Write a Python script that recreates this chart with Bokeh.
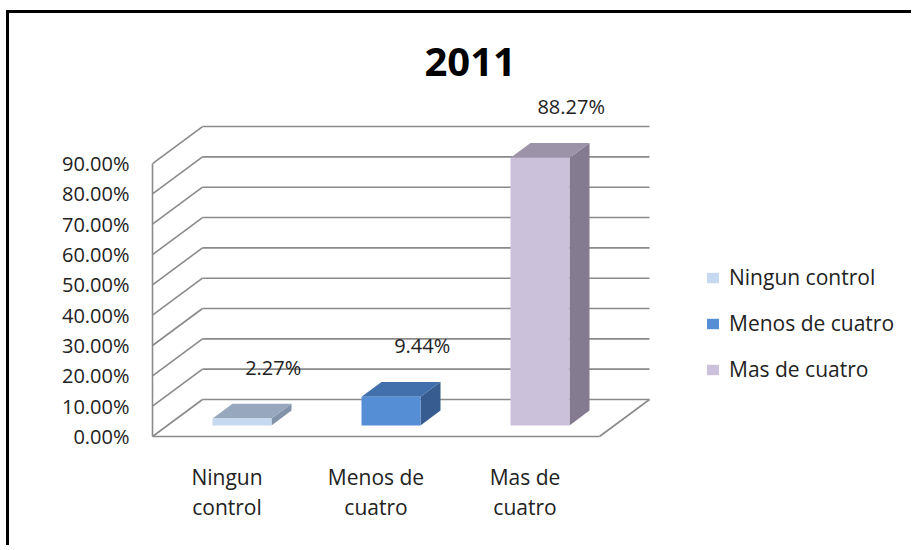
import numpy as np
from bokeh.plotting import figure
from bokeh.models import (FixedTicker, PrintfTickFormatter, Legend, LegendItem,
                          ColumnDataSource, Range1d)
from bokeh.embed import file_html
from bokeh.resources import INLINE
from bokeh.core.properties import value

# ---------------- data ----------------
title_text = "2011"
categories = ["Ningun control", "Menos de cuatro", "Mas de cuatro"]
tick_labels = ["Ningun\ncontrol", "Menos de\ncuatro", "Mas de\ncuatro"]
values = [2.27, 9.44, 88.27]
value_labels = ["2.27%", "9.44%", "88.27%"]
axis_ticks = [0, 10, 20, 30, 40, 50, 60, 70, 80, 90]
front_colors = ["#c6d9f1", "#558ed5", "#ccc1da"]
top_colors = ["#97a8be", "#4170ac", "#9d93a9"]
side_colors = ["#8192a9", "#375d90", "#847b90"]

# ---------------- layout ----------------
FONT = "Open Sans"
TXT = "#222222"
GRID = "#8a8a8a"
OX, OY = 9, 13              # canvas origin on the page (margin + border)
W, H = 914 - OX, 548 - OY
PAD = 4                     # px below the floor's front edge
LEFT = 152 - OX
TOP = 82 - OY
BOTTOM = (OY + H) - (436 + PAD)
RIGHT = 0
PX_X = 149.0                # px per category
PX_Y = 3.033                # px per percent point
frame_w = W - LEFT - RIGHT
frame_h = H - TOP - BOTTOM
x_start = -0.5
y_start = -PAD / PX_Y

DX = 50 / PX_X              # depth of the chart box
DY = 37 / PX_Y
F0, F1 = 0.3, 0.7           # bar depth (fraction of box depth)
BAR_W = 59 / PX_X
LABEL_DX, LABEL_DY = 0.31, 20.5

n = len(categories)
xs = np.arange(n, dtype=float)

p = figure(width=W, height=H, output_backend="svg", toolbar_location=None,
           x_range=Range1d(x_start, x_start + frame_w / PX_X),
           y_range=Range1d(y_start, y_start + frame_h / PX_Y),
           min_border_left=LEFT, min_border_right=RIGHT,
           min_border_top=TOP, min_border_bottom=BOTTOM)
p.outline_line_color = None
p.background_fill_color = "white"
p.border_fill_color = "white"
p.grid.visible = False
p.styles = {"margin-left": "6px", "margin-top": "10px",
            "border-left": "3px solid #000", "border-top": "3px solid #000"}

# title
p.title.text = title_text
p.title.align = "left"
p.title.offset = 272
p.title.standoff = 14
p.title.text_font = FONT
p.title.text_font_size = "40px"
p.title.text_font_style = "bold"
p.title.text_color = "black"

# ---------------- walls & floor ----------------
ticks = np.array(axis_ticks, dtype=float)
left_edge = x_start
right_edge = x_start + n
p.segment(x0=left_edge + DX, y0=ticks + DY, x1=right_edge + DX, y1=ticks + DY,
          line_color=GRID, line_width=1.6)
p.segment(x0=np.full(len(ticks), left_edge), y0=ticks,
          x1=np.full(len(ticks), left_edge + DX), y1=ticks + DY,
          line_color=GRID, line_width=1.6)
p.segment(x0=[left_edge, right_edge], y0=[0, 0], x1=[right_edge, right_edge + DX], y1=[0, DY],
          line_color=GRID, line_width=1.6)

# ---------------- bars ----------------
vals = np.array(values)
base = F0 * DY
bl = xs + F0 * DX - BAR_W / 2
br = xs + F0 * DX + BAR_W / 2
bt = base + vals
ddx = (F1 - F0) * DX
ddy = (F1 - F0) * DY

side_xs = [[r, r + ddx, r + ddx, r] for r in br]
side_ys = [[base, base + ddy, t + ddy, t] for t in bt]
top_xs = [[l, r, r + ddx, l + ddx] for l, r in zip(bl, br)]
top_ys = [[t, t, t + ddy, t + ddy] for t in bt]

p.patches(xs=side_xs, ys=side_ys, fill_color=side_colors, line_color=None)
p.patches(xs=top_xs, ys=top_ys, fill_color=top_colors, line_color=None)
src = ColumnDataSource(dict(left=bl, right=br, bottom=np.full(n, base), top=bt,
                            color=front_colors, name=categories))
front = p.quad(left="left", right="right", bottom="bottom", top="top",
               fill_color="color", line_color=None, source=src)

p.text(x=xs + LABEL_DX, y=vals + LABEL_DY, text=value_labels,
       text_font=value(FONT), text_font_size="20px", text_color=TXT,
       text_align="center", text_baseline="middle")

# ---------------- axes ----------------
yax = p.yaxis[0]
yax.ticker = FixedTicker(ticks=axis_ticks)
yax.formatter = PrintfTickFormatter(format="%.2f%%")
yax.bounds = (0, 90)
yax.axis_line_color = GRID
yax.axis_line_width = 1.6
yax.major_tick_in = 0
yax.major_tick_out = 0
yax.minor_tick_line_color = None
yax.major_label_standoff = 23
yax.major_label_text_font = FONT
yax.major_label_text_font_size = "20px"
yax.major_label_text_color = TXT

xax = p.xaxis[0]
xax.ticker = FixedTicker(ticks=list(range(n)))
xax.major_label_overrides = {i: lab for i, lab in enumerate(tick_labels)}
xax.axis_line_color = None
xax.major_tick_line_color = None
xax.minor_tick_line_color = None
xax.major_label_standoff = 16
xax.major_label_text_font = FONT
xax.major_label_text_font_size = "21px"
xax.major_label_text_color = TXT
xax.major_label_text_line_height = 1.1

# ---------------- legend ----------------
legend = Legend(items=[LegendItem(label=c, renderers=[front], index=i)
                       for i, c in enumerate(categories)],
                location=(553, 57))
legend.border_line_color = None
legend.background_fill_alpha = 0
legend.padding = 0
legend.margin = 0
legend.spacing = 18
legend.glyph_width = 15
legend.glyph_height = 13
legend.label_height = 27
legend.label_standoff = 9
legend.label_text_font = FONT
legend.label_text_font_size = "21px"
legend.label_text_color = TXT
p.add_layout(legend)

open("out.html", "w").write(file_html(p, INLINE))
